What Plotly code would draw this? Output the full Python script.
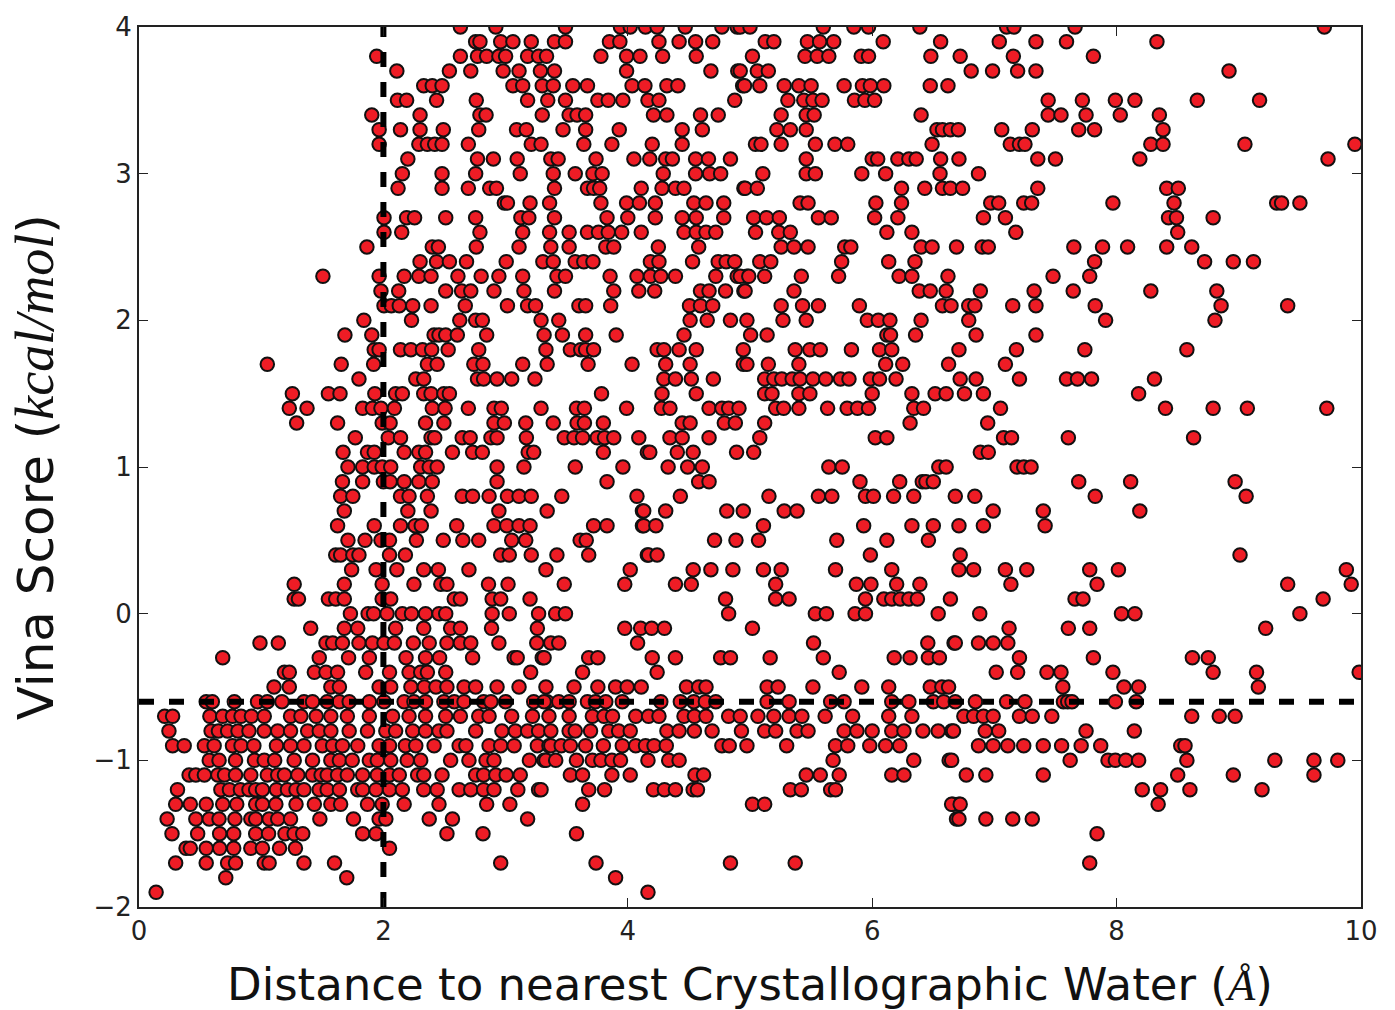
import plotly.graph_objects as go

# x values (distance) per Vina score level
row_n19 = [0.14, 4.165]
row_n18 = [0.71, 1.70, 3.90]
row_n17 = [0.30, 0.55, 0.725, 0.79, 1.025, 1.065, 1.35, 1.60, 2.96, 3.74, 4.84, 5.37, 7.78]
row_n16 = [0.385, 0.42, 0.55, 0.66, 0.775, 0.915, 1.01, 1.15, 1.28, 2.05]
row_n15 = [0.27, 0.48, 0.66, 0.775, 0.955, 1.06, 1.195, 1.27, 1.34, 1.83, 1.94, 2.52, 2.815, 3.58, 7.84]
row_n14 = [0.23, 0.465, 0.575, 0.655, 0.785, 0.915, 0.955, 1.065, 1.135, 1.24, 1.48, 1.755, 1.965, 2.02, 2.375, 2.565, 3.18, 6.69, 6.71, 6.93, 7.15, 7.31]
row_n13 = [0.30, 0.42, 0.55, 0.685, 0.80, 0.955, 1.01, 1.12, 1.285, 1.435, 1.57, 1.65, 1.87, 1.99, 2.17, 2.455, 2.845, 3.035, 3.63, 5.02, 5.12, 6.66, 6.71, 6.65, 6.72, 8.34]
row_n12 = [0.315, 0.67, 0.74, 0.83, 0.90, 0.955, 1.01, 1.125, 1.215, 1.285, 1.35, 1.475, 1.54, 1.64, 1.79, 1.83, 1.94, 2.05, 2.155, 2.33, 2.44, 2.62, 2.715, 2.82, 2.905, 3.10, 3.27, 3.29, 3.68, 3.81, 4.21, 4.30, 4.39, 4.535, 4.57, 5.33, 5.42, 5.66, 5.70, 8.21, 8.36, 8.60, 9.19]
row_n11 = [0.41, 0.465, 0.535, 0.645, 0.70, 0.79, 0.915, 1.05, 1.135, 1.19, 1.30, 1.42, 1.49, 1.54, 1.625, 1.705, 1.83, 1.95, 2.05, 2.13, 2.28, 2.33, 2.48, 2.755, 2.82, 2.92, 3.005, 3.12, 3.53, 3.63, 3.87, 4.02, 4.55, 4.62, 5.46, 5.575, 5.73, 6.16, 6.26, 6.77, 6.93, 7.40, 8.50, 8.955, 9.615]
row_n10 = [0.575, 0.655, 0.79, 0.945, 1.025, 1.11, 1.27, 1.42, 1.57, 1.64, 1.745, 1.885, 1.95, 2.06, 2.195, 2.305, 2.55, 2.70, 2.84, 2.905, 3.195, 3.315, 3.33, 3.41, 3.58, 3.71, 3.78, 3.87, 3.94, 4.165, 4.335, 4.42, 5.68, 6.34, 6.63, 6.65, 7.62, 7.93, 7.99, 8.075, 8.18, 8.575, 9.295, 9.615, 9.81]
row_n09 = [0.275, 0.37, 0.535, 0.615, 0.765, 0.835, 0.94, 1.125, 1.24, 1.35, 1.50, 1.585, 1.665, 1.79, 1.965, 2.05, 2.18, 2.265, 2.415, 2.62, 2.675, 2.865, 2.96, 3.07, 3.26, 3.355, 3.37, 3.455, 3.53, 3.655, 3.80, 3.955, 4.065, 4.145, 4.215, 4.315, 4.77, 4.83, 4.975, 5.30, 5.70, 5.80, 5.98, 6.11, 6.225, 6.87, 6.99, 7.11, 7.24, 7.40, 7.55, 7.71, 7.87, 8.525, 8.56]
row_n08 = [0.245, 0.59, 0.65, 0.725, 0.81, 0.90, 1.025, 1.135, 1.24, 1.38, 1.475, 1.57, 1.72, 1.87, 2.02, 2.10, 2.24, 2.345, 2.455, 2.52, 2.755, 2.97, 3.08, 3.18, 3.27, 3.37, 3.52, 3.57, 3.695, 3.845, 3.925, 4.02, 4.32, 4.42, 4.545, 4.69, 4.93, 5.12, 5.21, 5.385, 5.475, 5.77, 5.875, 6.0, 6.16, 6.26, 6.415, 6.54, 6.65, 6.665, 6.925, 7.035, 7.75, 8.145]
row_n07 = [0.21, 0.275, 0.58, 0.685, 0.765, 0.835, 0.92, 1.025, 1.24, 1.325, 1.45, 1.57, 1.705, 1.885, 2.075, 2.21, 2.345, 2.51, 2.63, 2.78, 2.865, 3.05, 3.22, 3.355, 3.52, 3.71, 3.805, 3.875, 4.065, 4.17, 4.255, 4.46, 4.545, 4.64, 4.825, 4.92, 5.065, 5.195, 5.32, 5.425, 5.615, 5.84, 6.135, 6.325, 6.75, 6.83, 6.91, 6.99, 7.205, 7.31, 7.47, 8.615, 8.84, 8.97]
row_n06 = [0.55, 0.60, 0.78, 0.97, 1.05, 1.35, 1.42, 1.54, 1.64, 1.72, 1.885, 2.005, 2.17, 2.25, 2.345, 2.495, 2.58, 2.66, 2.82, 2.88, 3.0, 3.23, 3.34, 3.315, 3.435, 3.52, 3.67, 3.735, 3.82, 3.955, 4.27, 4.43, 4.54, 4.635, 4.72, 5.14, 5.66, 5.77, 6.16, 6.50, 6.585, 6.68, 7.10, 7.565, 7.6, 7.635, 8.16]
row_n06_front = [1.17, 5.32, 6.30, 6.845, 7.25, 7.99]
row_n05 = [1.105, 1.23, 1.57, 1.64, 1.965, 2.06, 2.225, 2.335, 2.43, 2.52, 2.66, 2.755, 2.93, 3.11, 3.33, 3.56, 3.755, 3.90, 3.995, 4.11, 4.48, 4.58, 4.64, 5.14, 5.23, 5.515, 5.915, 6.135, 6.475, 6.57, 6.625, 7.56, 8.06, 8.18, 9.16]
row_n04 = [1.19, 1.23, 1.435, 1.53, 1.625, 1.855, 2.05, 2.21, 2.305, 2.36, 2.51, 3.205, 3.63, 4.24, 5.73, 7.015, 7.19, 7.43, 7.545, 7.97, 8.79, 9.145, 9.985]
row_n03 = [0.685, 1.475, 1.715, 1.885, 2.185, 2.345, 2.46, 2.73, 3.07, 3.095, 3.30, 3.315, 3.68, 3.755, 4.2, 4.39, 4.76, 4.84, 5.165, 5.60, 6.18, 6.31, 6.46, 6.55, 7.205, 7.81, 8.62, 8.75]
row_n02 = [0.99, 1.14, 1.53, 1.585, 1.665, 1.80, 1.91, 2.005, 2.09, 2.245, 2.375, 2.52, 2.63, 2.715, 2.945, 3.255, 3.37, 3.435, 4.08, 5.52, 6.455, 6.67, 6.68, 6.87, 6.99, 7.11]
row_n01 = [1.405, 1.68, 1.79, 2.10, 2.33, 2.55, 2.63, 2.885, 3.26, 3.975, 4.105, 4.195, 4.30, 5.02, 7.12, 7.605, 7.78, 9.22]
row_p00 = [1.73, 1.875, 1.92, 2.03, 2.155, 2.23, 2.345, 2.455, 2.51, 2.89, 3.03, 3.27, 3.41, 3.49, 4.825, 5.535, 5.625, 5.86, 5.945, 6.54, 6.88, 8.04, 8.15, 9.5]
row_p01 = [1.27, 1.305, 1.55, 1.61, 1.68, 1.99, 2.06, 2.58, 2.63, 2.89, 2.96, 3.2, 4.80, 5.21, 5.32, 5.945, 6.095, 6.16, 6.23, 6.30, 6.37, 6.64, 7.66, 7.725, 9.69]
row_p02 = [1.27, 1.68, 1.99, 2.25, 2.47, 2.52, 2.86, 3.02, 3.48, 3.975, 4.39, 4.52, 5.21, 5.87, 5.99, 6.2, 6.39, 7.135, 7.84, 9.40, 9.92]
row_p03 = [1.74, 1.94, 2.11, 2.33, 2.45, 2.70, 3.33, 4.02, 4.535, 4.68, 4.86, 5.11, 5.255, 5.70, 6.16, 6.71, 6.83, 7.09, 7.265, 7.78, 8.015, 9.88]
row_p04 = [1.61, 1.65, 1.75, 1.80, 2.05, 2.18, 2.96, 3.03, 3.21, 3.42, 3.68, 4.16, 4.17, 4.24, 5.985, 6.72, 9.01]
row_p05 = [1.71, 1.85, 1.98, 2.05, 2.27, 2.49, 2.65, 2.78, 3.05, 3.165, 3.61, 3.66, 4.71, 4.885, 5.07, 5.71, 6.12, 6.46]
row_p06 = [1.625, 1.925, 2.14, 2.26, 2.31, 2.60, 2.905, 3.01, 3.11, 3.20, 3.72, 3.83, 4.12, 4.13, 4.23, 5.11, 5.93, 6.325, 6.50, 6.71, 6.91, 7.415]
row_p07 = [1.68, 2.20, 2.39, 2.945, 3.34, 4.12, 4.13, 4.31, 4.81, 4.945, 5.28, 5.385, 6.99, 7.40, 8.19]
row_p08 = [1.65, 1.75, 2.14, 2.21, 2.36, 2.645, 2.73, 2.865, 3.015, 3.11, 3.21, 3.46, 4.075, 4.43, 5.155, 5.56, 5.67, 5.945, 6.01, 6.175, 6.34, 6.68, 6.84, 7.825, 9.06]
row_p09 = [1.665, 1.83, 2.0, 2.055, 2.17, 2.29, 2.40, 2.93, 3.83, 4.58, 4.665, 5.90, 6.225, 6.41, 6.44, 6.5, 7.69, 8.115, 8.97]
row_p10 = [1.71, 1.83, 1.925, 1.99, 2.06, 2.305, 2.375, 2.44, 2.93, 3.15, 3.57, 3.96, 4.33, 4.49, 4.61, 5.645, 5.755, 6.545, 6.605, 7.185, 7.24, 7.30]
row_p11 = [1.67, 1.87, 1.925, 2.17, 2.29, 2.345, 2.565, 2.73, 2.81, 3.185, 3.23, 3.80, 4.16, 4.18, 4.405, 4.535, 4.89, 5.03, 6.885, 6.95]
row_p12 = [1.77, 2.04, 2.14, 2.39, 2.42, 2.645, 2.71, 2.88, 2.93, 3.17, 3.48, 3.56, 3.63, 3.75, 3.81, 3.885, 4.09, 4.345, 4.445, 4.665, 5.08, 6.025, 6.12, 7.075, 7.14, 7.605, 8.63]
row_p13 = [1.29, 1.625, 1.99, 2.055, 2.345, 2.495, 2.905, 2.99, 3.165, 3.39, 3.585, 3.645, 3.80, 4.445, 4.51, 4.79, 4.88, 5.12, 6.31, 6.945]
row_p14 = [1.23, 1.375, 1.83, 1.91, 1.98, 2.09, 2.40, 2.505, 2.695, 2.905, 2.965, 3.29, 3.58, 3.645, 3.99, 4.275, 4.345, 4.665, 4.77, 4.825, 4.91, 5.21, 5.275, 5.40, 5.635, 5.795, 5.88, 5.97, 6.34, 6.42, 7.05, 8.40, 8.79, 9.07, 9.72]
row_p15 = [1.255, 1.55, 1.645, 1.93, 2.10, 2.155, 2.33, 2.39, 2.495, 2.54, 3.785, 4.28, 4.56, 5.12, 5.18, 5.40, 5.49, 6.0, 6.325, 6.515, 6.605, 6.755, 6.91, 8.18]
row_p16 = [1.80, 2.265, 2.33, 2.77, 2.82, 2.93, 3.05, 3.24, 4.295, 4.39, 4.52, 4.70, 5.12, 5.195, 5.26, 5.345, 5.41, 5.515, 5.62, 5.74, 5.81, 5.985, 6.06, 6.195, 6.72, 6.85, 7.205, 7.59, 7.68, 7.795, 8.31]
row_p17 = [1.05, 1.655, 1.92, 2.36, 2.44, 2.74, 2.815, 3.14, 3.34, 3.675, 4.035, 4.31, 4.51, 4.945, 4.975, 5.15, 5.40, 6.11, 6.25, 6.625, 7.09]
row_p18 = [1.925, 1.965, 2.14, 2.225, 2.32, 2.395, 2.53, 2.78, 3.33, 3.53, 3.615, 3.655, 3.72, 4.24, 4.295, 4.42, 4.56, 4.945, 5.37, 5.49, 5.575, 5.83, 6.06, 6.16, 6.71, 7.18, 7.74, 8.575]
row_p19 = [1.685, 1.905, 2.415, 2.455, 2.51, 2.605, 2.845, 3.315, 3.465, 3.655, 3.905, 4.46, 5.005, 5.14, 6.12, 6.15, 6.355, 6.85, 7.34]
row_p20 = [1.84, 2.23, 2.625, 2.755, 2.81, 3.29, 3.435, 4.51, 4.65, 4.84, 4.975, 5.27, 5.46, 5.96, 6.05, 6.145, 6.40, 6.79, 7.91, 8.805]
row_p21 = [2.005, 2.065, 2.13, 2.24, 2.39, 2.67, 3.015, 3.18, 3.245, 3.60, 3.655, 3.86, 4.505, 4.595, 4.695, 5.255, 5.43, 5.56, 5.895, 6.575, 6.645, 6.79, 6.84, 7.15, 7.34, 7.825, 8.855, 9.40]
row_p22 = [1.98, 2.125, 2.51, 2.64, 2.715, 2.905, 3.15, 3.40, 3.885, 4.09, 4.22, 4.595, 4.665, 4.80, 4.95, 4.96, 5.36, 6.385, 6.475, 6.605, 6.885, 7.325, 7.645, 8.28, 8.82]
row_p23 = [1.505, 1.965, 2.17, 2.29, 2.39, 2.61, 2.80, 2.945, 3.14, 3.42, 3.49, 3.855, 4.075, 4.185, 4.27, 4.39, 4.72, 4.895, 4.975, 4.92, 4.99, 5.12, 5.42, 5.725, 6.22, 6.325, 6.62, 7.48, 7.78]
row_p24 = [2.30, 2.435, 2.54, 2.68, 3.005, 3.305, 3.39, 3.57, 3.64, 3.715, 4.185, 4.255, 4.53, 4.74, 4.805, 4.875, 5.08, 5.17, 5.75, 6.135, 6.35, 7.82, 8.72, 8.955, 9.12]
row_p25 = [1.865, 2.40, 2.45, 2.76, 3.11, 3.37, 3.52, 3.82, 3.885, 4.25, 4.58, 5.255, 5.36, 5.475, 5.775, 5.825, 6.40, 6.49, 6.69, 6.90, 6.95, 7.65, 7.885, 8.09, 8.41, 8.615]
row_p26 = [2.005, 2.15, 2.79, 3.14, 3.36, 3.52, 3.67, 3.76, 3.84, 3.95, 4.11, 4.46, 4.56, 4.64, 4.72, 5.045, 5.235, 5.33, 6.12, 6.325, 7.175, 8.50]
row_p27 = [2.005, 2.19, 2.255, 2.51, 2.755, 3.125, 3.19, 3.40, 3.83, 4.0, 4.225, 4.445, 4.56, 4.785, 5.03, 5.135, 5.24, 5.56, 5.665, 6.02, 6.21, 6.91, 7.09, 8.425, 8.49, 8.79]
row_p28 = [2.99, 3.015, 3.20, 3.36, 3.78, 3.99, 4.095, 4.225, 4.54, 4.64, 4.785, 5.41, 5.475, 6.03, 6.24, 6.97, 7.035, 7.24, 7.305, 7.97, 8.47, 9.31, 9.35, 9.50]
row_p29 = [2.12, 2.48, 2.695, 2.87, 2.925, 3.40, 3.67, 3.72, 3.77, 4.11, 4.28, 4.39, 4.46, 4.95, 4.96, 5.06, 6.24, 6.43, 6.575, 6.64, 6.74, 7.355, 8.41, 8.505]
row_p30 = [2.155, 2.48, 2.755, 3.12, 3.39, 3.57, 3.715, 3.79, 4.29, 4.555, 4.67, 4.76, 5.105, 5.46, 5.535, 5.915, 6.11, 6.555, 6.87]
row_p31 = [2.20, 2.77, 2.90, 3.095, 3.37, 3.43, 3.74, 4.05, 4.18, 4.31, 4.365, 4.555, 4.66, 4.84, 5.46, 6.0, 6.045, 6.21, 6.30, 6.36, 6.56, 6.71, 7.355, 7.50, 8.19, 9.73]
row_p32 = [1.965, 2.29, 2.36, 2.42, 2.48, 2.695, 3.21, 3.29, 3.64, 3.87, 4.2, 4.445, 5.045, 5.09, 5.255, 5.535, 5.695, 5.80, 6.49, 7.13, 7.205, 7.25, 8.28, 8.38, 9.05, 9.95]
row_p33 = [1.965, 2.14, 2.30, 2.49, 2.78, 3.09, 3.17, 3.47, 3.655, 3.93, 4.445, 4.61, 5.22, 5.33, 5.46, 6.53, 6.575, 6.64, 6.705, 7.06, 7.31, 7.69, 7.82, 8.38]
row_p34 = [1.905, 2.30, 2.79, 2.84, 3.30, 3.52, 3.585, 3.655, 4.21, 4.32, 4.595, 4.74, 5.255, 5.46, 5.525, 6.40, 7.44, 7.545, 7.75, 8.03, 8.35]
row_p35 = [2.115, 2.19, 2.435, 2.76, 3.18, 3.345, 3.49, 3.755, 3.84, 3.96, 4.165, 4.255, 4.875, 5.31, 5.44, 5.515, 5.59, 5.855, 5.94, 6.02, 7.44, 7.72, 7.99, 8.15, 8.66, 9.17]
row_p36 = [2.33, 2.40, 2.48, 3.06, 3.14, 3.30, 3.39, 3.55, 3.67, 4.035, 4.14, 4.32, 4.41, 4.94, 4.955, 5.08, 5.28, 5.40, 5.50, 5.77, 5.92, 5.985, 6.095, 6.475, 6.62]
row_p37 = [2.11, 2.54, 2.715, 2.98, 3.11, 3.285, 3.40, 3.99, 4.68, 4.90, 4.92, 5.06, 5.15, 6.81, 6.985, 7.19, 7.34, 8.92]
row_p38 = [1.945, 2.63, 2.77, 2.845, 2.945, 3.0, 3.18, 3.27, 3.335, 3.78, 3.99, 4.1, 4.285, 4.56, 5.02, 5.45, 5.55, 5.645, 5.91, 5.97, 6.48, 6.72, 7.155, 7.81]
row_p39 = [2.755, 2.79, 2.96, 3.06, 3.21, 3.40, 3.49, 3.85, 3.935, 4.255, 4.42, 4.555, 4.695, 5.125, 5.195, 5.47, 5.57, 5.685, 6.09, 6.56, 7.04, 7.34, 7.59, 8.33]
row_p40 = [2.63, 2.92, 3.49, 3.94, 4.02, 4.145, 4.24, 4.47, 4.77, 4.895, 4.92, 5.0, 5.6, 5.85, 5.97, 6.39, 7.10, 7.16, 7.66, 9.7]

score_levels = [-1.9, -1.8, -1.7, -1.6, -1.5, -1.4, -1.3, -1.2, -1.1, -1.0, -0.9, -0.8, -0.7, -0.6, -0.5, -0.4, -0.3, -0.2, -0.1,
                0.0, 0.1, 0.2, 0.3, 0.4, 0.5, 0.6, 0.7, 0.8, 0.9, 1.0, 1.1, 1.2, 1.3, 1.4, 1.5, 1.6, 1.7, 1.8, 1.9, 2.0,
                2.1, 2.2, 2.3, 2.4, 2.5, 2.6, 2.7, 2.8, 2.9, 3.0, 3.1, 3.2, 3.3, 3.4, 3.5, 3.6, 3.7, 3.8, 3.9, 4.0]
rows = [row_n19, row_n18, row_n17, row_n16, row_n15, row_n14, row_n13, row_n12, row_n11, row_n10, row_n09, row_n08, row_n07,
        row_n06, row_n05, row_n04, row_n03, row_n02, row_n01, row_p00, row_p01, row_p02, row_p03, row_p04, row_p05, row_p06,
        row_p07, row_p08, row_p09, row_p10, row_p11, row_p12, row_p13, row_p14, row_p15, row_p16, row_p17, row_p18, row_p19,
        row_p20, row_p21, row_p22, row_p23, row_p24, row_p25, row_p26, row_p27, row_p28, row_p29, row_p30, row_p31, row_p32,
        row_p33, row_p34, row_p35, row_p36, row_p37, row_p38, row_p39, row_p40]

x_ticks = [0, 2, 4, 6, 8, 10]
y_ticks = [-2, -1, 0, 1, 2, 3, 4]
y_tick_text = ["\u22122", "\u22121", "0", "1", "2", "3", "4"]
cut_distance = 2
cut_score = -0.6

xs, ys = [], []
for level, row in zip(score_levels, rows):
    xs.extend(row)
    ys.extend([level] * len(row))

marker = dict(color="#ee1c25", size=13.5, line=dict(color="#111111", width=2))
dash = dict(color="black", width=6, dash="15px,15px")

fig = go.Figure()
fig.add_trace(go.Scatter(x=xs, y=ys, mode="markers", marker=marker))
fig.add_trace(go.Scatter(x=[cut_distance, cut_distance], y=[-2, 4], mode="lines", line=dash))
fig.add_trace(go.Scatter(x=[0, 10], y=[cut_score, cut_score], mode="lines", line=dash))
fig.add_trace(go.Scatter(x=row_n06_front, y=[cut_score] * len(row_n06_front), mode="markers", marker=marker))

axis = dict(showgrid=False, zeroline=False, showline=True, linecolor="#222222", linewidth=2, mirror="ticks",
            ticks="inside", ticklen=9, tickwidth=1, tickcolor="#222222",
            tickfont=dict(family="DejaVu Sans", size=26, color="#222222"))
fig.update_layout(
    width=1395, height=1010, showlegend=False, paper_bgcolor="white", plot_bgcolor="white",
    margin=dict(l=139, r=34, t=27, b=103),
    xaxis=dict(range=[0, 10], tickvals=x_ticks, ticktext=[str(v) for v in x_ticks], **axis),
    yaxis=dict(range=[-2, 4], tickvals=y_ticks, ticktext=y_tick_text, **axis),
    annotations=[
        dict(text="Distance to nearest Crystallographic Water (<span style=\"font-family:'Liberation Serif';font-style:italic\">\u00c5</span>)",
             xref="paper", yref="paper", x=0.5, y=-0.056, xanchor="center", yanchor="top", showarrow=False,
             font=dict(family="DejaVu Sans", size=45, color="#111111")),
        dict(text="Vina Score (<span style=\"font-family:'Liberation Serif';font-style:italic;font-size:54px\">kcal/mol</span>)",
             xref="paper", yref="paper", x=-0.111, y=0.5, xanchor="left", yanchor="middle", textangle=-90, showarrow=False,
             font=dict(family="DejaVu Sans", size=50, color="#111111")),
    ],
)
fig.write_html("out.html", config=dict(displayModeBar=False), post_script="document.body.style.margin='0';")
